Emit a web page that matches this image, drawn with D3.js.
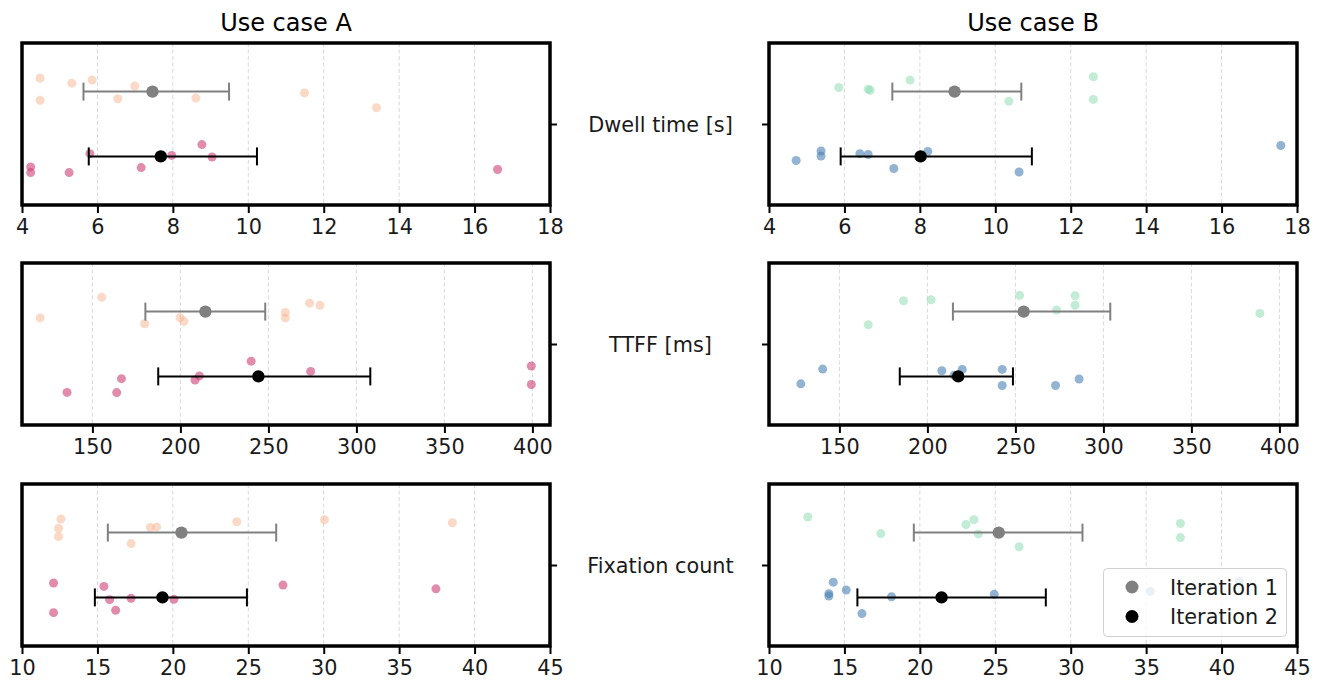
<!DOCTYPE html>
<html>
<head>
<meta charset="utf-8">
<script src="https://cdn.jsdelivr.net/npm/d3@7"></script>
<style>
  html, body { margin: 0; padding: 0; background: #fff; }
  svg { display: block; font-family: "DejaVu Sans", sans-serif; }
</style>
</head>
<body>
<svg id="chart" width="1320" height="685"></svg>
<script>
// ---------- DATA ----------
const useCases = ["Use case A", "Use case B"];
const metrics = ["Dwell time [s]", "TTFF [ms]", "Fixation count"];
const iterations = ["Iteration 1", "Iteration 2"];

const xDomains = [[4, 18], [110, 410], [10, 45]];
const xTicks = [
  [4, 6, 8, 10, 12, 14, 16, 18],
  [150, 200, 250, 300, 350, 400],
  [10, 15, 20, 25, 30, 35, 40, 45]
];

// Dwell time — Use case A
const dwellA_it1 = [4.48, 4.48, 5.32, 5.86, 6.99, 6.54, 8.61, 11.49, 13.40];
const dwellA_it1_jit = [-0.083, 0.054, -0.052, -0.071, -0.035, 0.044, 0.040, 0.008, 0.100];
const dwellA_it2 = [4.23, 4.23, 5.25, 5.80, 7.16, 7.97, 8.77, 9.04, 16.61];
const dwellA_it2_jit = [0.065, 0.100, 0.100, -0.017, 0.069, -0.006, -0.073, 0.004, 0.081];
// Dwell time — Use case B
const dwellB_it1 = [5.85, 6.63, 6.68, 7.74, 10.36, 12.60, 12.60];
const dwellB_it1_jit = [-0.025, -0.015, -0.008, -0.071, 0.060, -0.092, 0.048];
const dwellB_it2 = [4.72, 5.38, 5.38, 6.41, 6.63, 7.31, 8.21, 10.63, 17.57];
const dwellB_it2_jit = [0.025, -0.033, -0.002, -0.017, -0.012, 0.075, -0.031, 0.096, -0.067];

// TTFF — Use case A
const ttffA_it1 = [120.3, 155.3, 179.7, 199.8, 202.0, 259.6, 259.6, 273.4, 279.3];
const ttffA_it1_jit = [0.039, -0.088, 0.075, 0.037, 0.060, 0.005, 0.039, -0.052, -0.039];
const ttffA_it2 = [135.6, 163.8, 166.5, 208.3, 210.8, 240.2, 274.0, 399.4, 399.4];
const ttffA_it2_jit = [0.099, 0.100, 0.014, 0.022, -0.003, -0.094, -0.031, -0.064, 0.050];
// TTFF — Use case B
const ttffB_it1 = [166.4, 186.4, 202.1, 252.4, 273.4, 283.9, 283.9, 388.9];
const ttffB_it1_jit = [0.081, -0.067, -0.073, -0.100, -0.010, -0.098, -0.039, 0.011];
const ttffB_it2 = [128.1, 140.5, 208.2, 215.2, 219.8, 242.5, 242.5, 272.8, 286.2];
const ttffB_it2_jit = [0.046, -0.045, -0.035, -0.007, -0.043, -0.043, 0.056, 0.056, 0.016];

// Fixation count — Use case A
const fixA_it1 = [12.58, 12.42, 12.42, 17.23, 18.51, 18.93, 24.24, 30.05, 38.53];
const fixA_it1_jit = [-0.084, -0.027, 0.024, 0.068, -0.031, -0.035, -0.067, -0.079, -0.061];
const fixA_it2 = [12.09, 12.09, 15.43, 15.81, 16.21, 17.23, 20.07, 27.30, 37.44];
const fixA_it2_jit = [-0.089, 0.094, -0.068, 0.014, 0.079, 0.006, 0.012, -0.076, -0.053];
// Fixation count — Use case B
const fixB_it1 = [12.57, 17.41, 23.06, 23.58, 23.87, 26.58, 37.27, 37.27];
const fixB_it1_jit = [-0.096, 0.006, -0.050, -0.079, 0.008, 0.087, -0.056, 0.031];
const fixB_it2 = [14.26, 15.12, 13.97, 13.97, 16.16, 18.12, 24.93, 35.28, 41.18];
const fixB_it2_jit = [-0.094, -0.046, -0.023, -0.008, 0.100, -0.004, -0.019, -0.037, -0.098];

// Point estimates (mean) and interval ends
// order: [A it1, A it2, B it1, B it2]
const dwellMeans = [7.46, 7.68, 8.92, 8.02];
const dwellLow   = [5.63, 5.77, 7.27, 5.90];
const dwellHigh  = [9.49, 10.23, 10.69, 10.97];
const ttffMeans = [214.2, 244.3, 254.7, 217.5];
const ttffLow   = [180.1, 187.4, 214.5, 184.3];
const ttffHigh  = [248.2, 307.9, 303.9, 248.6];
const fixMeans = [20.57, 19.31, 25.23, 21.44];
const fixLow   = [15.69, 14.83, 19.60, 15.86];
const fixHigh  = [26.85, 24.91, 30.78, 28.35];

// ---------- STYLE / LAYOUT ----------
const colX = [[22, 550], [769, 1297]];
const rowTop = [43, 263, 484];
const panelH = 162;
const pointColors = [["#f7b48f", "#cd3f74"], ["#8fdcb4", "#4a80b2"]];
const pointOpacity = [[0.5, 0.6], [0.55, 0.6]];
const estColors = ["#808080", "#000000"];
const iterOffset = [-0.2, 0.2];

const rawPoints = [
  [[[dwellA_it1, dwellA_it1_jit], [dwellA_it2, dwellA_it2_jit]],
   [[dwellB_it1, dwellB_it1_jit], [dwellB_it2, dwellB_it2_jit]]],
  [[[ttffA_it1, ttffA_it1_jit], [ttffA_it2, ttffA_it2_jit]],
   [[ttffB_it1, ttffB_it1_jit], [ttffB_it2, ttffB_it2_jit]]],
  [[[fixA_it1, fixA_it1_jit], [fixA_it2, fixA_it2_jit]],
   [[fixB_it1, fixB_it1_jit], [fixB_it2, fixB_it2_jit]]]
];
const estimates = [
  [dwellMeans, dwellLow, dwellHigh],
  [ttffMeans, ttffLow, ttffHigh],
  [fixMeans, fixLow, fixHigh]
];

const svg = d3.select("#chart");
const font = "DejaVu Sans, sans-serif";

// Column titles
useCases.forEach((t, c) => {
  svg.append("text")
    .attr("x", (colX[c][0] + colX[c][1]) / 2)
    .attr("y", 31)
    .attr("text-anchor", "middle")
    .attr("font-size", 24)
    .attr("fill", "#000")
    .text(t);
});

metrics.forEach((m, r) => {
  const top = rowTop[r];
  const y = d3.scaleLinear().domain([-0.5, 0.5]).range([top, top + panelH]);

  // Metric label between columns
  svg.append("text")
    .attr("x", 660.5)
    .attr("y", y(0) + 7.5)
    .attr("text-anchor", "middle")
    .attr("font-size", 20.8)
    .attr("fill", "#1a1a1a")
    .text(m);

  [0, 1].forEach(c => {
    const x = d3.scaleLinear().domain(xDomains[r]).range(colX[c]);
    const g = svg.append("g");

    // grid
    g.selectAll("line.grid")
      .data(xTicks[r].filter(t => t > xDomains[r][0] && t < xDomains[r][1]))
      .join("line")
      .attr("x1", d => x(d)).attr("x2", d => x(d))
      .attr("y1", top).attr("y2", top + panelH)
      .attr("stroke", "#d9d9d9")
      .attr("stroke-width", 1)
      .attr("stroke-dasharray", "4,2.5");

    // x axis
    const axis = d3.axisBottom(x).tickValues(xTicks[r]).tickSize(8).tickPadding(6)
      .tickFormat(d3.format("d"));
    const ax = g.append("g")
      .attr("transform", `translate(0,${top + panelH})`)
      .call(axis);
    ax.select(".domain").remove();
    ax.selectAll(".tick line").attr("stroke", "#000").attr("stroke-width", 2);
    ax.selectAll(".tick text")
      .attr("font-family", font)
      .attr("font-size", 20.8)
      .attr("fill", "#1a1a1a")
      .attr("dy", "0.71em");

    // y tick at centre
    const yt = c === 0 ? d3.axisRight(y) : d3.axisLeft(y);
    const yax = g.append("g")
      .attr("transform", `translate(${c === 0 ? colX[c][1] : colX[c][0]},0)`)
      .call(yt.tickValues([0]).tickSize(7).tickFormat(""));
    yax.select(".domain").remove();
    yax.selectAll(".tick line").attr("stroke", "#000").attr("stroke-width", 2);

    // strip points
    iterations.forEach((it, i) => {
      const [vals, jit] = rawPoints[r][c][i];
      const pts = vals.map((v, k) => ({ v, j: jit[k] }));
      g.selectAll(null)
        .data(pts)
        .join("circle")
        .attr("cx", d => x(d.v))
        .attr("cy", d => y(iterOffset[i] + d.j))
        .attr("r", 4.5)
        .attr("fill", pointColors[c][i])
        .attr("fill-opacity", pointOpacity[c][i]);
    });

    // point estimates with interval
    iterations.forEach((it, i) => {
      const idx = c * 2 + i;
      const [means, lows, highs] = estimates[r];
      const cy = y(iterOffset[i]);
      const col = estColors[i];
      g.append("line")
        .attr("x1", x(lows[idx])).attr("x2", x(highs[idx]))
        .attr("y1", cy).attr("y2", cy)
        .attr("stroke", col).attr("stroke-width", 2);
      [lows[idx], highs[idx]].forEach(v => {
        g.append("line")
          .attr("x1", x(v)).attr("x2", x(v))
          .attr("y1", cy - 9).attr("y2", cy + 9)
          .attr("stroke", col).attr("stroke-width", 2);
      });
      g.append("circle")
        .attr("cx", x(means[idx])).attr("cy", cy)
        .attr("r", 6.2)
        .attr("fill", col);
    });

    // frame
    g.append("rect")
      .attr("x", colX[c][0]).attr("y", top)
      .attr("width", colX[c][1] - colX[c][0]).attr("height", panelH)
      .attr("fill", "none")
      .attr("stroke", "#000")
      .attr("stroke-width", 3.5);
  });
});

// Legend (bottom-right panel)
const lg = svg.append("g");
lg.append("rect")
  .attr("x", 1103.5).attr("y", 568.5)
  .attr("width", 183).attr("height", 68)
  .attr("rx", 4)
  .attr("fill", "#fff").attr("fill-opacity", 0.8)
  .attr("stroke", "#d0d0d0").attr("stroke-width", 1);
iterations.forEach((it, i) => {
  const ly = 587 + i * 29.5;
  lg.append("circle").attr("cx", 1132).attr("cy", ly).attr("r", 6.5).attr("fill", estColors[i]);
  lg.append("text")
    .attr("x", 1170).attr("y", ly + 7.5)
    .attr("font-size", 20.8)
    .attr("fill", "#1a1a1a")
    .text(it);
});
</script>
</body>
</html>
